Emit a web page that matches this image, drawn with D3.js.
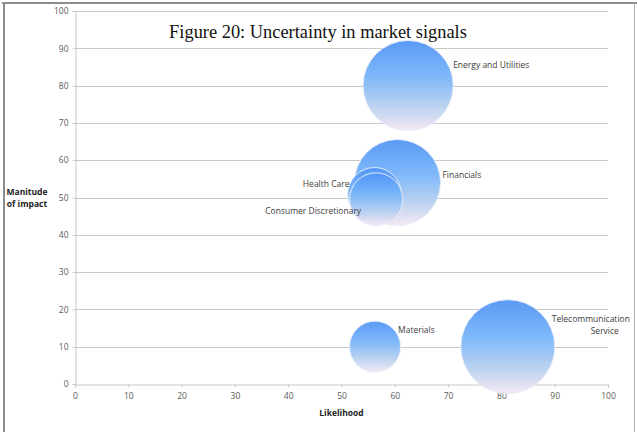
<!DOCTYPE html>
<html><head><meta charset="utf-8">
<script src="https://cdn.jsdelivr.net/npm/d3@7"></script>
<style>
html,body{margin:0;padding:0;background:#fff;}
svg{display:block;}
</style></head>
<body>
<script>
const names = ["Energy and Utilities","Financials","Health Care","Consumer Discretionary","Materials","Telecommunication Service"];
const likelihood = [62.5, 60.5, 56.2, 56.5, 56.3, 81.2];
const impact = [80, 54, 50.8, 49.5, 10, 10];
const sizes = [81, 74, 29, 28, 26, 88];
const xTicks = [0,10,20,30,40,50,60,70,80,90,100];
const yTicks = [0,10,20,30,40,50,60,70,80,90,100];
const title = "Figure 20: Uncertainty in market signals";
const xTitle = "Likelihood";
const yTitle = ["Manitude","of impact"];

const W = 637, H = 432;
const svg = d3.select("body").append("svg").attr("width", W).attr("height", H);

// frame
svg.append("line").attr("x1",2).attr("x2",637).attr("y1",3).attr("y2",3).attr("stroke","#8c8c8c").attr("stroke-width",2);
svg.append("line").attr("x1",4).attr("x2",4).attr("y1",2).attr("y2",432).attr("stroke","#8c8c8c").attr("stroke-width",2);
svg.append("line").attr("x1",634.5).attr("x2",634.5).attr("y1",2).attr("y2",432).attr("stroke","#b0b0b0").attr("stroke-width",1);

const x = d3.scaleLinear().domain([0,100]).range([75,608]);
const y = d3.scaleLinear().domain([0,100]).range([384,11]);
const r = d3.scaleSqrt().domain([0,88]).range([0,47]);

const defs = svg.append("defs");
const grad = defs.append("linearGradient").attr("id","bub").attr("x1",0).attr("y1",0).attr("x2",0).attr("y2",1);
grad.append("stop").attr("offset","0%").attr("stop-color","#5295f5");
grad.append("stop").attr("offset","40%").attr("stop-color","#78b5fa");
grad.append("stop").attr("offset","75%").attr("stop-color","#bcd2f0");
grad.append("stop").attr("offset","100%").attr("stop-color","#f6e8f6");

// gridlines
svg.append("g").selectAll("line").data(yTicks.filter(d=>d>0)).join("line")
  .attr("x1",x(0)).attr("x2",x(100)).attr("y1",d=>Math.round(y(d))+0.5).attr("y2",d=>Math.round(y(d))+0.5)
  .attr("stroke","#c8c8c8").attr("stroke-width",1);

// axes
const fontAxis = "'Open Sans', 'DejaVu Sans', sans-serif";
const gx = svg.append("g").attr("transform",`translate(0,${Math.round(y(0))+0.5})`)
  .call(d3.axisBottom(x).tickValues(xTicks).tickSize(3).tickPadding(5).tickFormat(d3.format("d")));
const gy = svg.append("g").attr("transform",`translate(${Math.round(x(0))+0.5},0)`)
  .call(d3.axisLeft(y).tickValues(yTicks).tickSize(3).tickPadding(4).tickFormat(d3.format("d")));
[gx,gy].forEach(g=>{
  g.select(".domain").attr("stroke","#c8c8c8");
  g.selectAll(".tick line").attr("stroke","#c8c8c8");
  g.selectAll(".tick text").attr("fill","#595959").attr("font-size","8.5px").attr("font-family",fontAxis);
});

// bubbles
const data = names.map((n,i)=>({name:n,x:likelihood[i],y:impact[i],s:sizes[i]}));
svg.append("g").selectAll("circle").data(data).join("circle")
  .attr("cx",d=>x(d.x)).attr("cy",d=>y(d.y)).attr("r",d=>r(d.s))
  .attr("fill","url(#bub)").attr("stroke","#e8eef8").attr("stroke-width",1).attr("opacity",0.95);

// labels
const lab = svg.append("g").attr("font-family",fontAxis).attr("font-size","8.5px").attr("fill","#404040");
const lp = [
  {t:["Energy and Utilities"], anchor:"start", off:[45,-18]},
  {t:["Financials"], anchor:"start", off:[45,-5]},
  {t:["Health Care"], anchor:"end", off:[-25,-8]},
  {t:["Consumer Discretionary"], anchor:"end", off:[-15,15]},
  {t:["Materials"], anchor:"start", off:[23,-14]},
  {t:["Telecommunication","Service"], anchor:"middle", off:[83,-25]}
];
data.forEach((d,i)=>{
  const p = lp[i];
  const tx = x(d.x)+p.off[0], ty = y(d.y)+p.off[1];
  const t = lab.append("text").attr("text-anchor",p.anchor).attr("x",tx).attr("y",ty);
  p.t.forEach((s,j)=>t.append("tspan").attr("x",tx + (j ? 14 : 0)).attr("dy",j?12:0).text(s));
});

// titles
svg.append("text").attr("x",318).attr("y",38).attr("text-anchor","middle")
  .attr("font-family","'Liberation Serif', 'Times New Roman', serif").attr("font-size","18.4px").attr("fill","#111").text(title);
svg.append("text").attr("x",x(50)).attr("y",416).attr("text-anchor","middle")
  .attr("font-family",fontAxis).attr("font-size","8.5px").attr("font-weight","bold").attr("fill","#222").text(xTitle);
const yt = svg.append("text").attr("font-family",fontAxis).attr("font-size","8.5px").attr("font-weight","bold").attr("fill","#222").attr("text-anchor","middle");
yTitle.forEach((s,j)=>yt.append("tspan").attr("x",27).attr("y",195+j*12).text(s));
</script>
</body></html>
